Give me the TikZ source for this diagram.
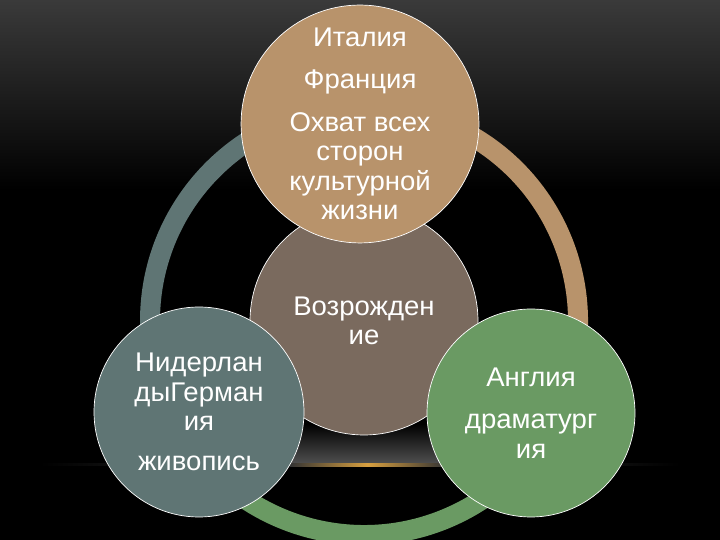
\documentclass[tikz,border=0pt]{standalone}
\usepackage{fontspec}
\newfontfamily\slidefont{Liberation Sans}[FakeStretch=1.02]
\usetikzlibrary{calc}

\definecolor{bgtop}{HTML}{3A3A3A}
\definecolor{tan}{HTML}{B8936B}
\definecolor{mocha}{HTML}{7A6A5E}
\definecolor{slate}{HTML}{5F7574}
\definecolor{sage}{HTML}{6A9A63}
\definecolor{glow}{HTML}{D8A040}
\definecolor{haze}{HTML}{505050}

\begin{document}
\begin{tikzpicture}[x=1pt, y=1pt,
    bubble/.style={circle, draw=white, line width=0.7pt, inner sep=0pt,
        minimum size=#1, text=white, align=center,
        font=\slidefont\fontsize{27}{29.5}\selectfont},
    band/.style={line width=20pt}]

    \fill[black] (0,0) rectangle (720,540);
    \shade[top color=bgtop, bottom color=black] (0,350) rectangle (720,540);
    \useasboundingbox (0,0) rectangle (720,540);

    \shade[top color=black, bottom color=haze] (285,76) rectangle (445,116);
    \shade[left color=black, right color=black, middle color=black!75!white] (40,74) rectangle (680,76);
    \shade[left color=black!80!white, right color=black!80!white, middle color=glow] (290,73.5) rectangle (445,76.5);

    \coordinate (O) at (364,219);
    \draw[band, slate] ([shift={(91:214)}]O) arc[start angle=91, end angle=209, radius=214];
    \draw[band, tan] ([shift={(-29:214)}]O) arc[start angle=-29, end angle=91, radius=214];
    \draw[band, sage] ([shift={(209:214)}]O) arc[start angle=209, end angle=331, radius=214];

    \node[bubble=228pt, fill=mocha] (rebirth) at (O) {Возрожден\\ие};
    \node[bubble=224pt, fill=tan] (italy) at (360,416)
        {Италия\\[13pt]Франция\\[13pt]Охват всех\\сторон\\культурной\\жизни};
    \node[bubble=210pt, fill=slate] (lowlands) at (199,128)
        {Нидерлан\\дыГерман\\ия\\[10pt]живопись};
    \node[bubble=208pt, fill=sage] (england) at (531,127)
        {Англия\\[13pt]драматург\\ия};
\end{tikzpicture}
\end{document}
